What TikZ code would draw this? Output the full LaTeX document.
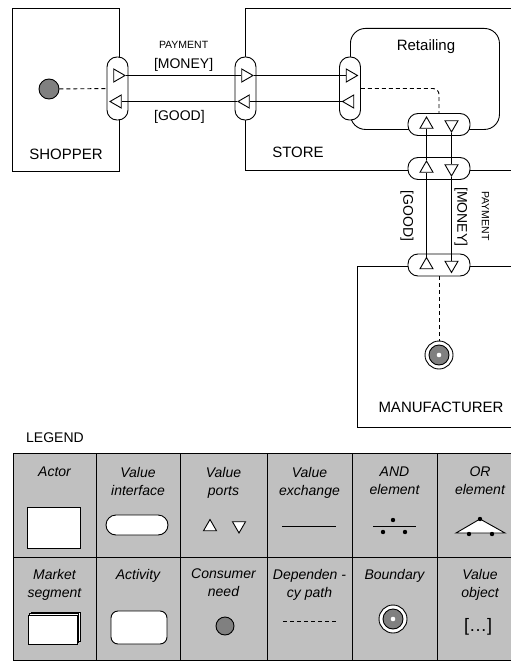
\documentclass[tikz,border=0pt]{standalone}
\usepackage{fontspec}
\setmainfont{Liberation Sans}
\usepackage{xcolor}
\usetikzlibrary{arrows.meta,positioning,fit,calc,shapes.geometric}
\definecolor{needgray}{RGB}{128,128,128}
\definecolor{legendgray}{RGB}{192,192,192}
\tikzset{%
  % elements
  actor/.style={draw, line width=0.9pt, fill=white, inner sep=0pt},
  activity/.style={draw, line width=0.9pt, fill=white, rounded corners=15pt, inner sep=0pt},
  iface/.style={draw, line width=0.9pt, fill=white, rounded corners=10pt, inner sep=0pt,
    minimum width=21pt, minimum height=63pt},
  hiface/.style={iface, minimum width=62pt, minimum height=22pt},
  port/.style={draw, line width=0.9pt, fill=white, regular polygon, regular polygon sides=3,
    minimum size=15pt, inner sep=0pt},
  portR/.style={port, rotate=-90},
  portL/.style={port, rotate=90},
  portU/.style={port},
  portD/.style={port, rotate=180},
  need/.style={circle, draw, line width=0.9pt, fill=needgray, minimum size=20pt, inner sep=0pt,
    path picture={\fill (path picture bounding box.center) circle (2.3pt);}},
  boundary/.style={circle, draw, line width=0.9pt, fill=white, minimum size=28pt, inner sep=0pt,
    path picture={\filldraw[fill=needgray, line width=0.9pt] (path picture bounding box.center) circle (10pt);
      \fill (path picture bounding box.center) circle (2.3pt);}},
  % edge styles
  xchg/.style={line width=0.9pt},
  dep/.style={line width=0.9pt, dash pattern=on 4pt off 3pt},
  grid/.style={line width=0.9pt},
  % texts
  lbl/.style={font=\fontsize{15}{18}\selectfont, inner sep=0pt},
  xlbl/.style={font=\fontsize{14}{17}\selectfont, inner sep=0pt},
  small/.style={font=\fontsize{10.5}{12}\selectfont, inner sep=0pt},
  ltitle/.style={font=\fontsize{14}{18}\selectfont\itshape, align=center, anchor=north, inner sep=0pt},
}

\begin{document}
\begin{tikzpicture}[x=1pt, y=-1pt]
  \useasboundingbox (0,0) rectangle (511,661);
  \clip (0,0) rectangle (511,661);

  % Actors
  \node[actor, anchor=north west, minimum width=107pt, minimum height=163pt] (shopper) at (12,8) {};
  \node[actor, anchor=north west, minimum width=300pt, minimum height=162pt] (store) at (245,8) {};
  \node[actor, anchor=north west, minimum width=200pt, minimum height=161pt] (manuf) at (357,266) {};
  \node[lbl] (shopper-name) at (66,154) {SHOPPER};
  \node[lbl] (store-name) at (298,152) {STORE};
  \node[lbl] (manuf-name) at (441,407) {MANUFACTURER};

  % Activity
  \node[activity, anchor=north west, minimum width=149pt, minimum height=101pt] (retail) at (350,28) {};
  \node[lbl] (retail-name) at (426,47) {Retailing};

  % Value interfaces
  \node[iface] (shopper-if) at (117.5,88.5) {};
  \node[iface] (store-if) at (245.5,88.5) {};
  \node[iface] (retail-if) at (350,88.5) {};
  \node[hiface] (retail-ifb) at (439,124.5) {};
  \node[hiface] (store-ifb) at (439,168.5) {};
  \node[hiface] (manuf-if) at (439,265) {};

  % Value ports
  \node[portR] (shopper-pay) at ([yshift=13pt]shopper-if.center) {};
  \node[portL] (shopper-good) at ([yshift=-13pt]shopper-if.center) {};
  \node[portR] (store-pay) at ([yshift=13pt]store-if.center) {};
  \node[portL] (store-good) at ([yshift=-13pt]store-if.center) {};
  \node[portR] (retail-pay) at ([yshift=13pt]retail-if.center) {};
  \node[portL] (retail-good) at ([yshift=-13pt]retail-if.center) {};
  \node[portU] (retail-goodin) at ([xshift=-12.5pt]retail-ifb.center) {};
  \node[portD] (retail-payout) at ([xshift=12.5pt]retail-ifb.center) {};
  \node[portU] (store-goodin) at ([xshift=-12.5pt]store-ifb.center) {};
  \node[portD] (store-payout) at ([xshift=12.5pt]store-ifb.center) {};
  \node[portU] (manuf-good) at ([xshift=-12.5pt]manuf-if.center) {};
  \node[portD] (manuf-pay) at ([xshift=12.5pt]manuf-if.center) {};

  % Value exchanges
  \draw[xchg] (shopper-pay) -- node[xlbl, above=4pt] (money-a) {[MONEY]} (store-pay);
  \node[small, above=9pt of money-a] (pay-a) {PAYMENT};
  \draw[xchg] (store-good) -- node[xlbl, below=8pt] (good-a) {[GOOD]} (shopper-good);
  \draw[xchg] (store-pay) -- (retail-pay);
  \draw[xchg] (retail-good) -- (store-good);
  \draw[xchg] (store-goodin) -- (retail-goodin);
  \draw[xchg] (retail-payout) -- (store-payout);
  \draw[xchg] (manuf-good) -- (store-goodin);
  \draw[xchg] (store-payout) -- (manuf-pay);
  \node[xlbl, rotate=-90] (good-b) at (407,216) {[GOOD]};
  \node[xlbl, rotate=-90] (money-b) at (461,217) {[MONEY]};
  \node[small, rotate=-90] (pay-b) at (485.5,216) {PAYMENT};

  % Needs, boundaries, dependency paths
  \node[need] (shopper-need) at (49,89) {};
  \node[boundary] (manuf-bound) at (439,355) {};
  \draw[dep] (shopper-need) -- (shopper-if);
  \draw[dep, rounded corners=6pt] (retail-if.east) -| (retail-ifb.north);
  \draw[dep] (manuf-if) -- (manuf-bound);

  % Legend
  \node[xlbl] (legend-name) at (55,438) {LEGEND};
  \fill[legendgray] (13,453) rectangle (530,660);
  \foreach \x in {13,96,180,267,352,437}
    \draw[grid] (\x,453) -- (\x,660);
  \foreach \y in {453,557,660}
    \draw[grid] (13,\y) -- (530,\y);

  \node[ltitle] (lg-actor) at (54.5,467) {Actor};
  \node[ltitle] (lg-iface) at (138,467) {Value\\interface};
  \node[ltitle] (lg-ports) at (223.5,467) {Value\\ports};
  \node[ltitle] (lg-exch) at (309.5,467) {Value\\exchange};
  \node[ltitle] (lg-and) at (394.5,467) {AND\\element};
  \node[ltitle] (lg-or) at (480,467) {OR\\element};
  \node[ltitle] (lg-seg) at (54.5,569) {Market\\segment};
  \node[ltitle] (lg-act) at (138,569) {Activity};
  \node[ltitle] (lg-need) at (223.5,569) {Consumer\\need};
  \node[ltitle] (lg-dep) at (309.5,569) {Dependen -\\cy path};
  \node[ltitle] (lg-bound) at (394.5,569) {Boundary};
  \node[ltitle] (lg-obj) at (480,569) {Value\\object};

  \node[actor, minimum width=53pt, minimum height=41pt] (lg-actor-sym) at (53.5,527.5) {};
  \node[hiface, minimum height=20pt] (lg-iface-sym) at (137,525) {};
  \node[portU] (lg-port-up) at (210,527) {};
  \node[portD] (lg-port-dn) at (239,525.5) {};
  \draw[xchg] (282,526) -- (336,526);
  \draw[xchg] (373,526) -- (416,526);
  \foreach \p in {(393,520),(383,532),(405,532)}
    \fill \p circle (2.2pt);
  \filldraw[xchg, fill=white] (480,519) -- (456,533) -- (505,533) -- cycle;
  \foreach \p in {(480,519),(469,534),(492,534)}
    \fill \p circle (2.2pt);

  \foreach \d in {3,1.5,0}
    \draw[actor] (28+\d,615-\d) rectangle (77+\d,644-\d);
  \node[activity, rounded corners=7pt, minimum width=56pt, minimum height=33pt] (lg-act-sym) at (139,627.5) {};
  \node[need, minimum size=18pt] (lg-need-sym) at (225,626) {};
  \draw[dep] (283,621) -- (337,621);
  \node[boundary] (lg-bound-sym) at (393,619) {};
  \node[font=\fontsize{18}{20}\selectfont, inner sep=0pt] (lg-obj-sym) at (478,627) {[…]};
\end{tikzpicture}
\end{document}
